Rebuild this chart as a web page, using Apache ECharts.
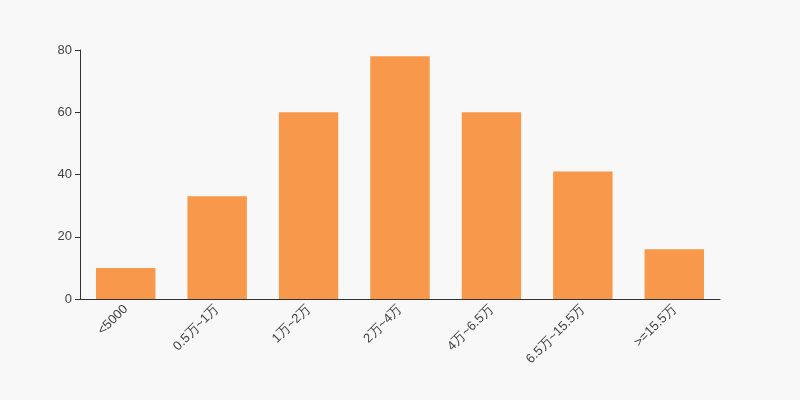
<!DOCTYPE html>
<html><head><meta charset="utf-8">
<script src="https://cdn.jsdelivr.net/npm/echarts@6/dist/echarts.min.js"></script>
<style>html,body{margin:0;padding:0;background:#f8f8f8}#c{width:800px;height:400px}</style>
</head><body><div id="c"></div>
<script>
const categories = ['<5000','0.5万~1万','1万~2万','2万~4万','4万~6.5万','6.5万~15.5万','>=15.5万'];
const values = [10, 33, 60, 78, 60, 41, 16];
const yTicks = [0, 20, 40, 60, 80];

const chart = echarts.init(document.getElementById('c'), null, {renderer:'canvas'});
chart.setOption({
  backgroundColor: '#f8f8f8',
  animation: false,
  grid: {left: 80, right: 80, top: 50, bottom: 101, containLabel: false},
  xAxis: {
    type: 'category', data: categories,
    axisLine: {lineStyle: {color: '#333'}},
    axisTick: {lineStyle: {color: '#333'}},
    axisLabel: {rotate: 45, color: '#444', fontSize: 13, interval: 0, fontFamily: 'sans-serif'}
  },
  yAxis: {
    type: 'value', min: yTicks[0], max: yTicks[yTicks.length-1], interval: 20,
    axisLine: {show: true, lineStyle: {color: '#333'}},
    axisTick: {show: true, lineStyle: {color: '#333'}},
    splitLine: {show: false},
    axisLabel: {color: '#444', fontSize: 13, fontFamily: 'sans-serif'}
  },
  series: [{
    type: 'bar', data: values, barWidth: '65%',
    itemStyle: {color: '#F7984A'}
  }]
});
</script></body></html>
